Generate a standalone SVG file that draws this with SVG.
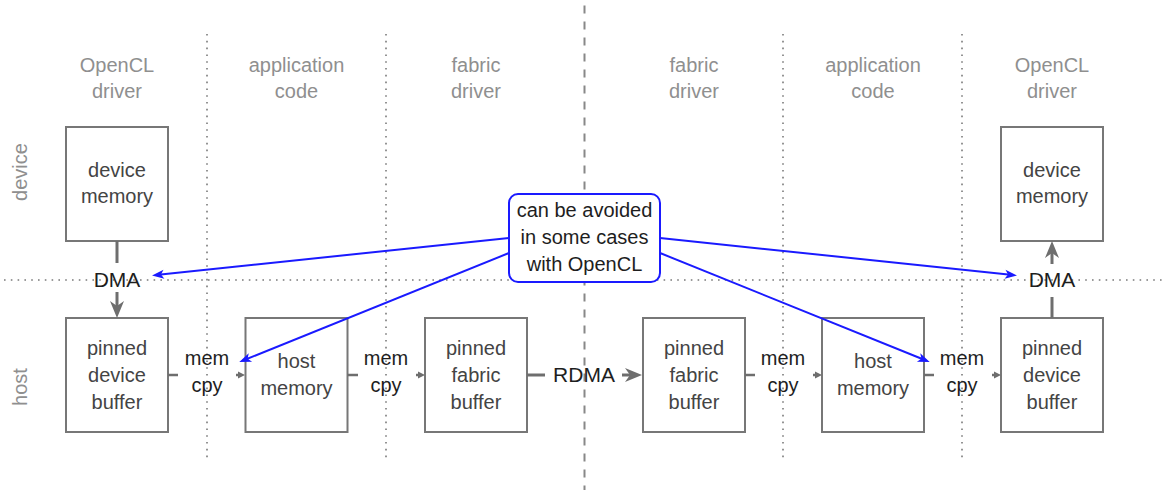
<svg xmlns="http://www.w3.org/2000/svg" width="1163" height="490" viewBox="0 0 1163 490">
  <style>
    text { font-family: "Liberation Sans", Arial, sans-serif; font-size: 20px; text-anchor: middle; }
    .head { fill: #8f8f8f; }
    .side { fill: #8f8f8f; }
    .node rect { fill: #fff; stroke: #777; stroke-width: 2; }
    .node text { fill: #444; }
    .lbl { fill: #1e1e1e; }
    .big { font-size: 21px; }
    .dot { stroke: #7a7a7a; stroke-width: 1.6; stroke-dasharray: 1.6 5.2; fill: none; }
    .dash { stroke: #888; stroke-width: 2; stroke-dasharray: 8 8; fill: none; }
    .thick { stroke: #6e6e6e; stroke-width: 3; fill: none; }
    .thin { stroke: #6e6e6e; stroke-width: 2.5; fill: none; }
    .blue { stroke: #1a1aff; stroke-width: 2; fill: none; }
  </style>
  <defs>
    <marker id="bigHead" markerUnits="userSpaceOnUse" orient="auto" overflow="visible" refX="0" refY="0" markerWidth="20" markerHeight="20">
      <path d="M12,0 L-5,-7 L0,0 L-5,7 Z" fill="#6e6e6e"/>
    </marker>
    <marker id="smallHead" markerUnits="userSpaceOnUse" orient="auto" overflow="visible" refX="0" refY="0" markerWidth="10" markerHeight="10">
      <path d="M7,0 L0,-3.5 L0,3.5 Z" fill="#6e6e6e"/>
    </marker>
    <marker id="blueHead" markerUnits="userSpaceOnUse" orient="auto" overflow="visible" refX="0" refY="0" markerWidth="14" markerHeight="14">
      <path d="M4,0 L-8,-4.5 L-5,0 L-8,4.5 Z" fill="#1a1aff"/>
    </marker>
  </defs>

  <!-- column and layer separators -->
  <g id="guides">
    <line class="dash" x1="584.5" y1="5.5" x2="584.5" y2="490"/>
    <line class="dot" x1="207" y1="34" x2="207" y2="462"/>
    <line class="dot" x1="386" y1="34" x2="386" y2="462"/>
    <line class="dot" x1="783" y1="34" x2="783" y2="462"/>
    <line class="dot" x1="962" y1="34" x2="962" y2="462"/>
    <line class="dot" x1="4" y1="280" x2="1163" y2="280"/>
  </g>

  <!-- column headings -->
  <g id="headings" class="head">
    <text x="117" y="72">OpenCL</text><text x="117" y="98">driver</text>
    <text x="296.5" y="72">application</text><text x="296.5" y="98">code</text>
    <text x="476" y="72">fabric</text><text x="476" y="98">driver</text>
    <text x="694" y="72">fabric</text><text x="694" y="98">driver</text>
    <text x="873" y="72">application</text><text x="873" y="98">code</text>
    <text x="1052" y="72">OpenCL</text><text x="1052" y="98">driver</text>
  </g>

  <!-- layer labels -->
  <g id="layers" class="side">
    <text transform="translate(27,172) rotate(-90)">device</text>
    <text transform="translate(27,387) rotate(-90)">host</text>
  </g>

  <!-- nodes -->
  <g id="dev-mem-left" class="node">
    <rect x="66" y="127" width="102" height="114"/>
    <text x="117" y="177">device</text><text x="117" y="203">memory</text>
  </g>
  <g id="pinned-dev-left" class="node">
    <rect x="66" y="318" width="102" height="114"/>
    <text x="117" y="355">pinned</text><text x="117" y="382">device</text><text x="117" y="409">buffer</text>
  </g>
  <g id="host-mem-left" class="node">
    <rect x="245.5" y="318" width="102" height="114"/>
    <text x="296.5" y="368">host</text><text x="296.5" y="395">memory</text>
  </g>
  <g id="pinned-fab-left" class="node">
    <rect x="425" y="318" width="102" height="114"/>
    <text x="476" y="355">pinned</text><text x="476" y="382">fabric</text><text x="476" y="409">buffer</text>
  </g>
  <g id="pinned-fab-right" class="node">
    <rect x="643" y="318" width="102" height="114"/>
    <text x="694" y="355">pinned</text><text x="694" y="382">fabric</text><text x="694" y="409">buffer</text>
  </g>
  <g id="host-mem-right" class="node">
    <rect x="822" y="318" width="102" height="114"/>
    <text x="873" y="368">host</text><text x="873" y="395">memory</text>
  </g>
  <g id="pinned-dev-right" class="node">
    <rect x="1001" y="318" width="102" height="114"/>
    <text x="1052" y="355">pinned</text><text x="1052" y="382">device</text><text x="1052" y="409">buffer</text>
  </g>
  <g id="dev-mem-right" class="node">
    <rect x="1001" y="127" width="102" height="114"/>
    <text x="1052" y="177">device</text><text x="1052" y="203">memory</text>
  </g>

  <!-- data path connectors -->
  <g id="connectors">
    <!-- DMA down, left side -->
    <line class="thick" x1="117" y1="241" x2="117" y2="263"/>
    <line class="thick" x1="117" y1="292" x2="117" y2="306" marker-end="url(#bigHead)"/>
    <!-- memcpy hops -->
    <line class="thin" x1="168" y1="375" x2="178" y2="375"/>
    <line class="thin" x1="236" y1="375" x2="238" y2="375" marker-end="url(#smallHead)"/>
    <line class="thin" x1="347.5" y1="375" x2="358" y2="375"/>
    <line class="thin" x1="416" y1="375" x2="418" y2="375" marker-end="url(#smallHead)"/>
    <!-- RDMA across the network -->
    <line class="thick" x1="527" y1="375" x2="545" y2="375"/>
    <line class="thick" x1="622" y1="375" x2="630" y2="375" marker-end="url(#bigHead)"/>
    <line class="thin" x1="745" y1="375" x2="755" y2="375"/>
    <line class="thin" x1="813" y1="375" x2="815" y2="375" marker-end="url(#smallHead)"/>
    <line class="thin" x1="924" y1="375" x2="934" y2="375"/>
    <line class="thin" x1="992" y1="375" x2="994" y2="375" marker-end="url(#smallHead)"/>
    <!-- DMA up, right side -->
    <line class="thick" x1="1052" y1="318" x2="1052" y2="297"/>
    <line class="thick" x1="1052" y1="264" x2="1052" y2="253" marker-end="url(#bigHead)"/>
  </g>

  <!-- connector labels -->
  <g id="edge-labels" class="lbl">
    <text class="big" x="117" y="287">DMA</text>
    <text class="big" x="1052" y="287">DMA</text>
    <text class="big" x="584" y="382">RDMA</text>
    <text x="207" y="365">mem</text><text x="207" y="392">cpy</text>
    <text x="386" y="365">mem</text><text x="386" y="392">cpy</text>
    <text x="783" y="365">mem</text><text x="783" y="392">cpy</text>
    <text x="962" y="365">mem</text><text x="962" y="392">cpy</text>
  </g>

  <!-- annotation callout -->
  <g id="callout">
    <rect x="509" y="194" width="151" height="88" rx="9" fill="#fff" stroke="#1a1aff" stroke-width="2"/>
    <text class="lbl" x="584.5" y="217">can be avoided</text>
    <text class="lbl" x="584.5" y="244">in some cases</text>
    <text class="lbl" x="584.5" y="271">with OpenCL</text>
  </g>

  <g id="callout-arrows">
    <line class="blue" x1="509" y1="238" x2="156" y2="275" marker-end="url(#blueHead)"/>
    <line class="blue" x1="509" y1="253" x2="243" y2="360.5" marker-end="url(#blueHead)"/>
    <line class="blue" x1="660" y1="238" x2="1013" y2="275" marker-end="url(#blueHead)"/>
    <line class="blue" x1="660" y1="253" x2="926" y2="360.5" marker-end="url(#blueHead)"/>
  </g>
</svg>
